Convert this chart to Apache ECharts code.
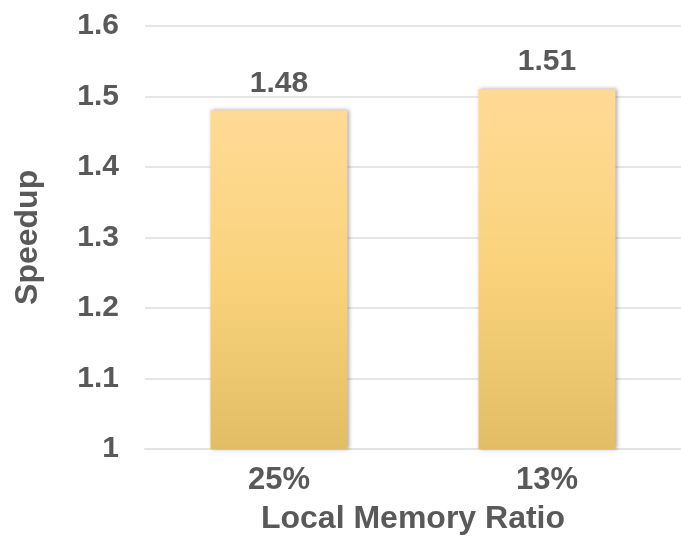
<!DOCTYPE html>
<html>
<head>
<meta charset="utf-8">
<script src="https://cdn.jsdelivr.net/npm/echarts@6/dist/echarts.min.js"></script>
<style>
  html, body { margin: 0; padding: 0; background: #fff; }
  #chart { width: 681px; height: 536px; }
</style>
</head>
<body>
<div id="chart"></div>
<script>
// data
var categories = ['25%', '13%'];
var speedup = [1.48, 1.51];
var yTicks = { min: 1, max: 1.6, step: 0.1 };

var textColor = '#595959';
var fontFamily = '"Liberation Sans", Arial, Helvetica, sans-serif';

var myChart = echarts.init(document.getElementById('chart'));

var option = {
    animation: false,
    grid: {
        left: 145,
        right: 0,
        top: 25.7,
        bottom: 87,
        containLabel: false,
        outerBoundsMode: 'none'
    },
    xAxis: {
        type: 'category',
        data: categories,
        name: 'Local Memory Ratio',
        nameLocation: 'middle',
        nameGap: 54,
        nameTextStyle: { color: textColor, fontSize: 32, fontWeight: 'bold', fontFamily: fontFamily },
        axisLine: { lineStyle: { color: '#e3e3e3', width: 2 } },
        axisTick: { show: false },
        axisLabel: { color: textColor, fontSize: 31, fontWeight: 'bold', fontFamily: fontFamily, margin: 16 }
    },
    yAxis: {
        type: 'value',
        min: yTicks.min,
        max: yTicks.max,
        interval: yTicks.step,
        name: 'Speedup',
        nameLocation: 'middle',
        nameGap: 101,
        nameTextStyle: { color: textColor, fontSize: 32, fontWeight: 'bold', fontFamily: fontFamily },
        axisLine: { show: false },
        axisTick: { show: false },
        splitLine: { lineStyle: { color: '#e6e6e6', width: 2 } },
        axisLabel: {
            color: textColor, fontSize: 30, fontWeight: 'bold', fontFamily: fontFamily, margin: 26,
            formatter: function (v) { return String(Math.round(v * 10) / 10); }
        }
    },
    series: [
        {
            type: 'bar',
            data: speedup,
            barWidth: 137,
            itemStyle: {
                color: new echarts.graphic.LinearGradient(0, 0, 0, 1, [
                    { offset: 0, color: '#ffda96' },
                    { offset: 0.5, color: '#fad27c' },
                    { offset: 1, color: '#e3bd66' }
                ]),
                shadowColor: 'rgba(0,0,0,0.35)',
                shadowBlur: 4,
                shadowOffsetX: 1
            },
            label: {
                show: true,
                position: 'top',
                distance: 12,
                color: textColor,
                fontSize: 30,
                fontWeight: 'bold',
                fontFamily: fontFamily
            }
        }
    ]
};

myChart.setOption(option);
</script>
</body>
</html>
